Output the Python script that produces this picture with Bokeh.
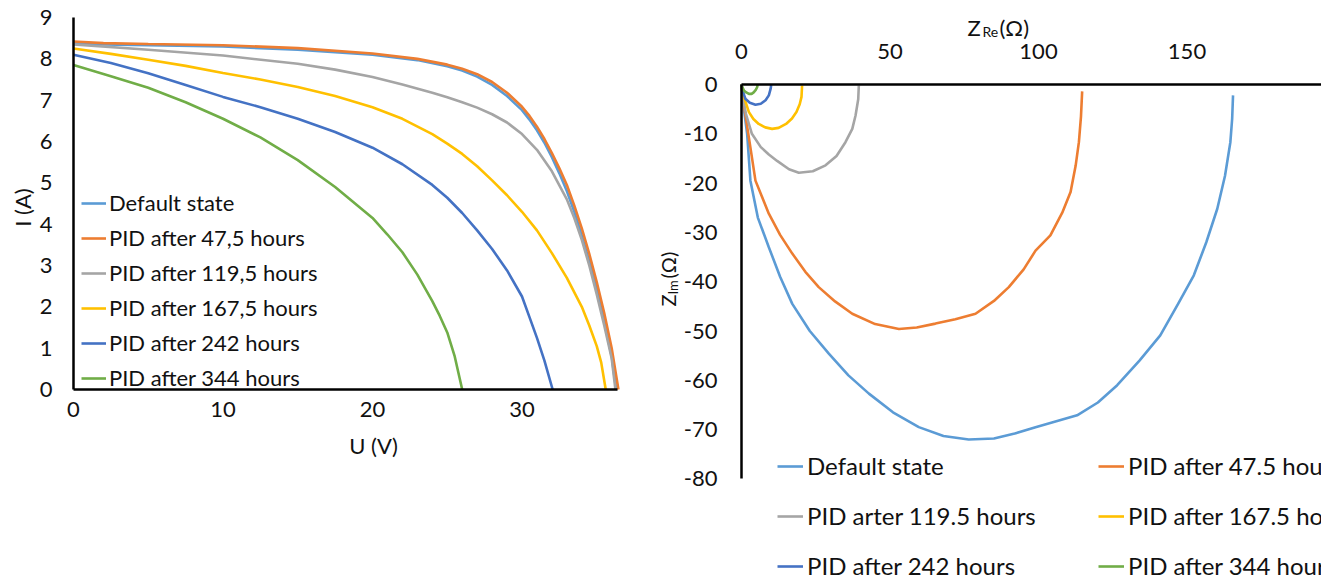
from math import pi
from bokeh.plotting import figure
from bokeh.layouts import row
from bokeh.models import Range1d, FixedTicker, Legend, LegendItem, Label, PrintfTickFormatter
from bokeh.embed import file_html
from bokeh.resources import INLINE

FONT = "Lato"
TXT = "#111111"
H = 581

series_iv = ["Default state", "PID after 47,5 hours", "PID after 119,5 hours",
             "PID after 167,5 hours", "PID after 242 hours", "PID after 344 hours"]
series_eis = ["Default state", "PID after 47.5 hours", "PID arter 119.5 hours",
              "PID after 167.5 hours", "PID after 242 hours", "PID after 344 hours"]
colors = ["#5B9BD5", "#ED7D31", "#A5A5A5", "#FFC000", "#4472C4", "#70AD47"]

# ---- I-V curves: U (V), I (A)
u_default = [0, 2, 5, 10, 15, 20, 23, 25, 26, 27, 28, 29, 30, 30.5, 31, 31.5, 32, 32.5, 33, 33.5, 34, 34.5,
             35, 35.5, 36, 36.3]
i_default = [8.38, 8.35, 8.33, 8.30, 8.22, 8.10, 7.97, 7.82, 7.72, 7.57, 7.37, 7.1, 6.76, 6.53, 6.27, 5.97,
             5.62, 5.23, 4.8, 4.3, 3.72, 3.1, 2.42, 1.65, 0.8, 0]
u_47 = [0, 2, 5, 10, 15, 20, 23, 25, 26, 27, 28, 29, 30, 30.5, 31, 31.5, 32, 32.5, 33, 33.5, 34, 34.5,
        35, 35.5, 36, 36.45]
i_47 = [8.42, 8.38, 8.36, 8.33, 8.26, 8.13, 8.0, 7.86, 7.76, 7.63, 7.44, 7.18, 6.84, 6.62, 6.36, 6.06,
        5.72, 5.35, 4.95, 4.45, 3.9, 3.28, 2.6, 1.85, 1.0, 0]
u_119 = [0, 5, 10, 15, 17.5, 20, 22, 24, 25, 26, 27, 28, 29, 30, 31, 32, 33, 33.5, 34, 34.5, 35, 35.5, 36, 36.25]
i_119 = [8.35, 8.22, 8.08, 7.88, 7.74, 7.56, 7.38, 7.18, 7.07, 6.95, 6.82, 6.66, 6.46, 6.18, 5.8, 5.28,
         4.6, 4.15, 3.62, 3.0, 2.3, 1.55, 0.75, 0]
u_167 = [0, 2.5, 5, 7.5, 10, 12.5, 15, 17.5, 20, 22, 24, 25, 26, 27, 28, 29, 30, 31, 32, 33, 34, 34.5,
         35, 35.3, 35.6]
i_167 = [8.25, 8.12, 7.98, 7.83, 7.66, 7.5, 7.32, 7.1, 6.83, 6.55, 6.18, 5.95, 5.7, 5.4, 5.06, 4.7,
         4.3, 3.85, 3.3, 2.7, 2.0, 1.55, 1.05, 0.65, 0]
u_242 = [0, 2.5, 5, 7.5, 10, 12.5, 15, 17.5, 20, 22, 24, 25, 26, 27, 28, 29, 30, 30.5, 31, 31.5, 32.05]
i_242 = [8.1, 7.9, 7.65, 7.37, 7.08, 6.83, 6.55, 6.23, 5.85, 5.45, 4.95, 4.64, 4.27, 3.85, 3.4, 2.88,
         2.25, 1.75, 1.25, 0.7, 0]
u_344 = [0, 2.5, 5, 7.5, 10, 12.5, 15, 17.5, 20, 21, 22, 23, 24, 24.5, 25, 25.5, 26.0]
i_344 = [7.85, 7.58, 7.3, 6.95, 6.55, 6.1, 5.55, 4.9, 4.15, 3.75, 3.32, 2.78, 2.14, 1.78, 1.38, 0.8, 0]

# ---- Nyquist: Z_Re, Z_Im (Ohm)
zre_default = [0, 0.8, 1.9, 3, 5.5, 9.2, 13, 17.1, 23, 29.4, 36, 42.9, 51, 59.7, 68, 76.5, 85, 92, 99, 106, 113,
               120, 126.5, 134, 141, 147, 152.3, 156.5, 160.2, 162.8, 164.6, 165.2, 165.5]
zim_default = [0, -5, -10, -19.5, -27, -33, -39, -44.5, -50, -54.6, -59, -62.7, -66.5, -69.5, -71.3, -72, -71.8,
               -70.8, -69.5, -68.3, -67.1, -64.5, -61, -56, -50.9, -44.5, -38.7, -32, -25.2, -18.5, -11.7, -7,
               -2.2]
zre_47 = [0, 1, 2.8, 4.7, 9.2, 13, 17.1, 21.5, 26, 31.5, 37.3, 45, 53, 59, 65.3, 72, 78.8, 85, 90, 95, 99, 104,
          108, 110.8, 112.5, 113.6, 114.3, 114.7]
zim_47 = [0, -5, -12, -19.5, -26.2, -30.5, -34.3, -38, -41.1, -44, -46.5, -48.6, -49.6, -49.3, -48.5, -47.6,
          -46.5, -43.9, -41.1, -37.5, -33.7, -30.6, -26, -21.8, -16.5, -11.7, -6.5, -1.4]
zre_119 = [0, 0.6, 1.5, 3.5, 6.5, 9.2, 12, 16, 19.3, 24, 28.3, 32, 35, 37.3, 38.4, 39.3, 39.5]
zim_119 = [0, -3, -6, -10, -12.7, -14.2, -15.5, -17.2, -17.9, -17.6, -16.4, -14.5, -11.7, -9, -6.3, -3, -0.2]
zre_167 = [0, 0.8, 2.5, 4, 5.8, 8, 10.3, 12.5, 15, 17, 18.5, 19.6, 20.2, 20.4]
zim_167 = [0, -2.5, -5.6, -7, -8.0, -8.7, -9.0, -8.8, -8.0, -6.9, -5.6, -4.0, -2.5, -0.2]
zre_242 = [0, 0.5, 1.3, 2.8, 4.7, 6.5, 8.1, 9.2, 9.8, 10.0]
zim_242 = [0, -1.5, -2.9, -3.7, -4.1, -3.9, -3.2, -2.2, -0.9, -0.1]
zre_344 = [0, 0.3, 0.8, 1.6, 2.5, 3.4, 4.1, 4.8, 5.3, 5.4]
zim_344 = [0, -0.6, -1.2, -1.6, -1.9, -1.9, -1.6, -1.1, -0.5, 0]

iv_ticks_x = [0, 10, 20, 30]
iv_ticks_y = [0, 1, 2, 3, 4, 5, 6, 7, 8, 9]
eis_ticks_x = [0, 50, 100, 150]
eis_ticks_y = [0, -10, -20, -30, -40, -50, -60, -70, -80]

iv_data = [(u_default, i_default), (u_47, i_47), (u_119, i_119),
           (u_167, i_167), (u_242, i_242), (u_344, i_344)]
eis_data = [(zre_default, zim_default), (zre_47, zim_47), (zre_119, zim_119),
            (zre_167, zim_167), (zre_242, zim_242), (zre_344, zim_344)]


def style_axis(ax, standoff, bounds):
    ax.fixed_location = 0
    ax.bounds = bounds
    ax.axis_line_color = "black"
    ax.axis_line_width = 2.5
    ax.major_tick_in = 0
    ax.major_tick_out = 0
    ax.minor_tick_in = 0
    ax.minor_tick_out = 0
    ax.major_label_text_font = FONT
    ax.major_label_text_font_size = "22px"
    ax.major_label_text_color = TXT
    ax.major_label_standoff = standoff
    ax.formatter = PrintfTickFormatter(format="%d")


def lab(p, cx, cy, text, size="22px", angle=0, align="left", baseline="alphabetic"):
    # cx, cy: pixel position inside the figure, measured from its top-left corner
    p.add_layout(Label(x=cx, y=H - cy, x_units="screen", y_units="screen", text=text,
                       text_font=FONT, text_font_size=size, text_color=TXT,
                       angle=angle, text_align=align, text_baseline=baseline))


def base_fig(w, x0px, sx, y0px, sy, **kw):
    # full-canvas frame; data origin at pixel (x0px, y0px), sx / sy pixels per unit
    p = figure(width=w, height=H, output_backend="svg", toolbar_location=None,
               x_range=Range1d(-x0px / sx, (w - x0px) / sx),
               y_range=Range1d(-(H - y0px) / sy, y0px / sy),
               min_border=0, min_border_left=0, min_border_right=0,
               min_border_top=0, min_border_bottom=0, **kw)
    p.frame_align = False
    p.outline_line_color = None
    p.grid.visible = False
    return p


# ---------------- left: I-V ----------------
p1 = base_fig(640, 73, 14.95, 389, 41.33)
p1.xaxis.ticker = FixedTicker(ticks=iv_ticks_x)
p1.yaxis.ticker = FixedTicker(ticks=iv_ticks_y)
style_axis(p1.xaxis[0], 12, (0, 36.4))
style_axis(p1.yaxis[0], 21, (0, 9))

items1 = []
for (xs, ys), name, c in zip(iv_data, series_iv, colors):
    r = p1.line(xs, ys, line_color=c, line_width=2.6)
    items1.append(LegendItem(label=name, renderers=[r]))
leg1 = Legend(items=items1, location=(81, H - 391), padding=0, margin=0, spacing=8,
              label_height=20, glyph_height=20, glyph_width=25, label_standoff=3,
              label_text_font=FONT, label_text_font_size="22px", label_text_color=TXT,
              border_line_color=None, background_fill_alpha=0)
p1.add_layout(leg1, "center")
lab(p1, 22, 207, "I (A)", angle=pi / 2, align="center", baseline="middle")
lab(p1, 373, 445, "U (V)", align="center", baseline="middle")

# ---------------- right: Nyquist ----------------
p2 = base_fig(681, 101, 2.97, 84, 4.93, x_axis_location="above")
p2.xaxis.ticker = FixedTicker(ticks=eis_ticks_x)
p2.yaxis.ticker = FixedTicker(ticks=eis_ticks_y)
style_axis(p2.xaxis[0], 26, (0, 200))
style_axis(p2.yaxis[0], 24, (-80, 0))

items2 = []
for (xs, ys), name, c in zip(eis_data, series_eis, colors):
    r = p2.line(xs, ys, line_color=c, line_width=2.6)
    items2.append(LegendItem(label=name, renderers=[r]))
for idxs, vx in (([0, 2, 4], 137), ([1, 3, 5], 458)):
    lg = Legend(items=[items2[k] for k in idxs], location=(vx, 1), padding=0, margin=0, spacing=21,
                label_height=20, glyph_height=20, glyph_width=26, label_standoff=4,
                label_text_font=FONT, label_text_font_size="24px", label_text_color=TXT,
                border_line_color=None, background_fill_alpha=0)
    p2.add_layout(lg, "center")

# axis titles with subscripts
lab(p2, 327, 27, "Z")
lab(p2, 342, 31, "Re", size="14px")
lab(p2, 359, 27, "(Ω)")
lab(p2, 27, 306, "Z", size="20px", angle=pi / 2)
lab(p2, 32, 294, "Im", size="13px", angle=pi / 2)
lab(p2, 27, 278, "(Ω)", size="20px", angle=pi / 2)

layout = row(p1, p2)
open("out.html", "w").write(file_html(layout, INLINE))
